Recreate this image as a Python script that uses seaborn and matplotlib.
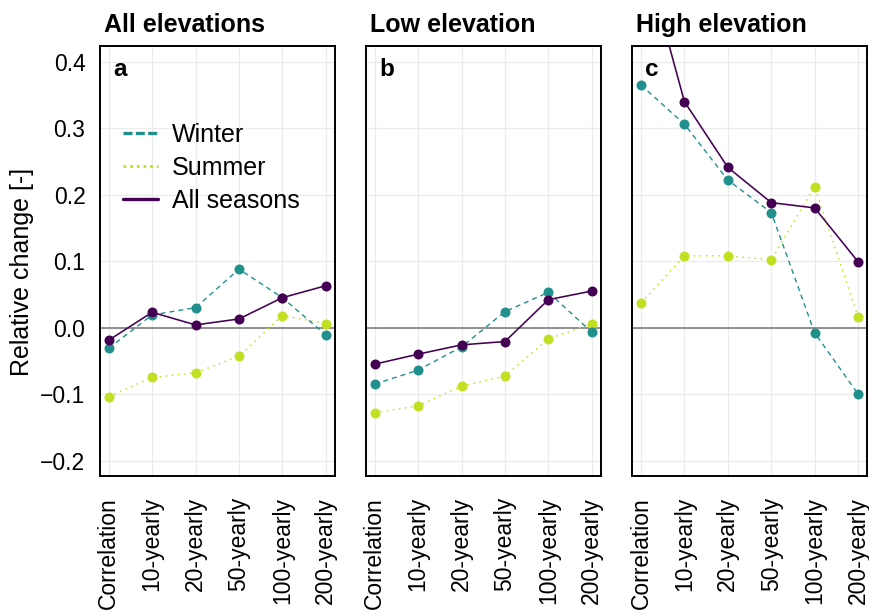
import numpy as np
import pandas as pd
import matplotlib
matplotlib.use("Agg")
import matplotlib.pyplot as plt
from matplotlib.lines import Line2D
import seaborn as sns

# Return-period / metric categories on the x axis
categories = ["Correlation", "10-yearly", "20-yearly", "50-yearly", "100-yearly", "200-yearly"]
panel_titles = ["All elevations", "Low elevation", "High elevation"]
panel_letters = ["a", "b", "c"]
seasons = ["Winter", "Summer", "All seasons"]

# Relative change per season, all elevations
winter_all = [-0.031, 0.019, 0.030, 0.088, 0.045, -0.011]
summer_all = [-0.104, -0.075, -0.068, -0.043, 0.018, 0.006]
allseas_all = [-0.019, 0.023, 0.004, 0.013, 0.045, 0.063]

# Low elevation
winter_low = [-0.085, -0.064, -0.029, 0.024, 0.053, -0.007]
summer_low = [-0.128, -0.118, -0.088, -0.073, -0.017, 0.006]
allseas_low = [-0.055, -0.040, -0.026, -0.021, 0.042, 0.055]

# High elevation
winter_high = [0.365, 0.306, 0.222, 0.173, -0.008, -0.100]
summer_high = [0.037, 0.108, 0.108, 0.102, 0.212, 0.016]
allseas_high = [0.580, 0.340, 0.241, 0.188, 0.180, 0.099]

y_ticks = [-0.2, -0.1, 0.0, 0.1, 0.2, 0.3, 0.4]

series = {
    "All elevations": {"Winter": winter_all, "Summer": summer_all, "All seasons": allseas_all},
    "Low elevation": {"Winter": winter_low, "Summer": summer_low, "All seasons": allseas_low},
    "High elevation": {"Winter": winter_high, "Summer": summer_high, "All seasons": allseas_high},
}

rows = []
for panel, by_season in series.items():
    for season, vals in by_season.items():
        for i, (cat, v) in enumerate(zip(categories, vals)):
            rows.append({"panel": panel, "season": season, "category": cat, "pos": i, "value": v})
df = pd.DataFrame(rows)

sns.set_style("white")
plt.rcParams["font.family"] = ["Liberation Sans", "DejaVu Sans"]
plt.rcParams["text.color"] = "black"
plt.rcParams["axes.labelcolor"] = "black"
plt.rcParams["xtick.color"] = "black"
plt.rcParams["ytick.color"] = "black"

colors = {"Winter": "#21908C", "Summer": "#C2DF23", "All seasons": "#440154"}
line_styles = {
    "Winter": dict(lw=1.0, ls=(0, (3.6, 2.9))),
    "Summer": dict(lw=1.1, ls=(0, (1.0, 3.0))),
    "All seasons": dict(lw=1.15, ls="-"),
}
draw_order = ["Summer", "Winter", "All seasons"]

W, H = 869, 611
fig = plt.figure(figsize=(W / 100, H / 100), dpi=100)

panel_left_px = [100, 366, 632.3]
panel_w_px = 234.5
panel_top_px, panel_bot_px = 45.7, 476.0
ylim = (-0.2233, 0.4241)

for k, (panel, left_px) in enumerate(zip(panel_titles, panel_left_px)):
    ax = fig.add_axes([left_px / W, (H - panel_bot_px) / H,
                       panel_w_px / W, (panel_bot_px - panel_top_px) / H])
    ax.set_axisbelow(True)
    ax.grid(True, color="#EBEBEB", lw=0.9)
    ax.axhline(0, color="#7F7F7F", lw=1.2, zorder=1.5)

    sub = df[df["panel"] == panel]
    for season in draw_order:
        s = sub[sub["season"] == season]
        sns.lineplot(data=s, x="pos", y="value", ax=ax, color=colors[season],
                     linewidth=line_styles[season]["lw"],
                     linestyle=line_styles[season]["ls"],
                     marker="o", markersize=7.2, markeredgewidth=0,
                     sort=False, errorbar=None, legend=False, zorder=3)

    ax.set_xlim(-0.2, 5.2)
    ax.set_ylim(*ylim)
    ax.set_xticks(range(len(categories)))
    ax.set_xticklabels(categories, rotation=90, va="top", ha="center")
    ax.set_yticks(y_ticks)
    ax.set_yticklabels([f"{t:.1f}".replace("-", "\u2212") for t in y_ticks])
    ax.set_xlabel("")
    ax.set_ylabel("")
    ax.tick_params(axis="both", direction="out", length=7, width=1.1,
                   color="black", labelsize=16.5, labelcolor="black")
    ax.tick_params(axis="y", pad=3.5)
    ax.tick_params(axis="x", pad=8)
    if k > 0:
        ax.tick_params(axis="y", labelleft=False)
    for sp in ax.spines.values():
        sp.set_color("black")
        sp.set_linewidth(1.4)

    ax.text(4 / panel_w_px, 1 + (panel_top_px - 32) / (panel_bot_px - panel_top_px),
            panel, transform=ax.transAxes, fontsize=18, fontweight="bold",
            ha="left", va="baseline", color="black")
    ax.text(0.055, 1 - (76 - panel_top_px) / (panel_bot_px - panel_top_px),
            panel_letters[k], transform=ax.transAxes, fontsize=17.5,
            fontweight="bold", ha="left", va="baseline", color="black")

    if k == 0:
        handles = [
            Line2D([], [], color=colors["Winter"], lw=2.4, ls=(0, (2.7, 1.0))),
            Line2D([], [], color=colors["Summer"], lw=2.0, ls=(0, (1.0, 1.4))),
            Line2D([], [], color=colors["All seasons"], lw=2.4, ls="-"),
        ]
        leg = ax.legend(handles, seasons, loc="center left",
                        bbox_to_anchor=((123 - left_px) / panel_w_px,
                                        1 - (168 - panel_top_px) / (panel_bot_px - panel_top_px)),
                        frameon=False, fontsize=18, handlelength=1.4,
                        handletextpad=0.56, labelspacing=0.36, borderpad=0,
                        borderaxespad=0)
        for t in leg.get_texts():
            t.set_color("black")

fig.text(22 / W, 1 - 272 / H, "Relative change [-]", rotation=90,
         fontsize=18, ha="center", va="center", color="black")

fig.savefig("out.png", dpi=100)
